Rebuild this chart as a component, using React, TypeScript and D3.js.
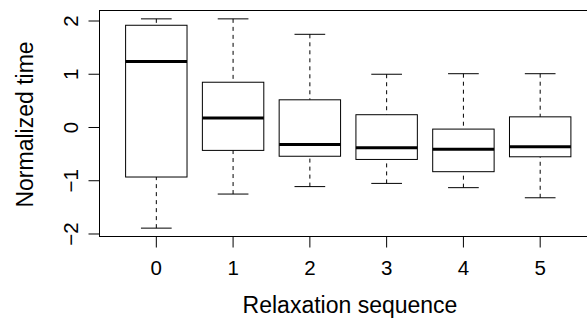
import React from "react";
import * as d3 from "d3";

// R-style boxplot stats per relaxation sequence
const groups = ["0", "1", "2", "3", "4", "5"];
const whiskerLow = [-1.89, -1.25, -1.11, -1.05, -1.13, -1.32];
const lowerHinge = [-0.93, -0.43, -0.54, -0.6, -0.83, -0.55];
const medians = [1.24, 0.18, -0.32, -0.38, -0.41, -0.36];
const upperHinge = [1.92, 0.85, 0.52, 0.24, -0.03, 0.2];
const whiskerHigh = [2.04, 2.04, 1.75, 1.0, 1.01, 1.01];
const yTicks = [-2, -1, 0, 1, 2];

const width = 587;
const height = 320;
const margin = { left: 99.5, top: 10.5, right: -10, bottom: 83.5 };
const font = "'Liberation Sans', Arial, Helvetica, sans-serif";
const tickSize = 20.5;
const titleSize = 23;

export default function App() {
  document.body.style.margin = "0";

  const innerLeft = margin.left;
  const innerRight = width - margin.right;
  const innerTop = margin.top;
  const innerBottom = height - margin.bottom;

  // R pads axis ranges by 4%
  const n = groups.length;
  const xPad = n * 0.04;
  const x = d3
    .scaleLinear()
    .domain([0.5 - xPad, n + 0.5 + xPad])
    .range([innerLeft, innerRight]);

  const yMin = d3.min(whiskerLow) as number;
  const yMax = d3.max(whiskerHigh) as number;
  const yPad = (yMax - yMin) * 0.04;
  const y = d3
    .scaleLinear()
    .domain([yMin - yPad, yMax + yPad])
    .range([innerBottom, innerTop]);

  const unit = x(2) - x(1);
  const boxW = unit * 0.8;
  const stapleW = boxW * 0.5;

  return (
    <svg width={width} height={height} style={{ display: "block", background: "#fff" }}>
      {/* frame */}
      <rect
        x={innerLeft}
        y={innerTop}
        width={innerRight - innerLeft}
        height={innerBottom - innerTop}
        fill="none"
        stroke="#000"
        strokeWidth={1}
      />

      {groups.map((g, i) => {
        const cx = x(i + 1);
        return (
          <g key={g}>
            <line x1={cx} x2={cx} y1={y(whiskerHigh[i])} y2={y(upperHinge[i])} stroke="#000" strokeDasharray="4,4" />
            <line x1={cx} x2={cx} y1={y(whiskerLow[i])} y2={y(lowerHinge[i])} stroke="#000" strokeDasharray="4,4" />
            <line x1={cx - stapleW / 2} x2={cx + stapleW / 2} y1={y(whiskerHigh[i])} y2={y(whiskerHigh[i])} stroke="#000" />
            <line x1={cx - stapleW / 2} x2={cx + stapleW / 2} y1={y(whiskerLow[i])} y2={y(whiskerLow[i])} stroke="#000" />
            <rect
              x={cx - boxW / 2}
              y={y(upperHinge[i])}
              width={boxW}
              height={y(lowerHinge[i]) - y(upperHinge[i])}
              fill="#fff"
              stroke="#000"
            />
            <line x1={cx - boxW / 2} x2={cx + boxW / 2} y1={y(medians[i])} y2={y(medians[i])} stroke="#000" strokeWidth={3} />
          </g>
        );
      })}

      {/* x axis */}
      {groups.map((g, i) => (
        <g key={"xt" + g}>
          <line x1={x(i + 1)} x2={x(i + 1)} y1={innerBottom} y2={innerBottom + 11} stroke="#000" />
          <text x={x(i + 1)} y={275} textAnchor="middle" fontFamily={font} fontSize={tickSize}>
            {g}
          </text>
        </g>
      ))}
      <text x={350} y={312.5} textAnchor="middle" fontFamily={font} fontSize={titleSize}>
        Relaxation sequence
      </text>

      {/* y axis */}
      {yTicks.map((t) => (
        <g key={"yt" + t}>
          <line x1={innerLeft - 11} x2={innerLeft} y1={y(t)} y2={y(t)} stroke="#000" />
          <text
            transform={`translate(78,${y(t)}) rotate(-90)`}
            textAnchor="middle"
            fontFamily={font}
            fontSize={tickSize}
          >
            {t < 0 ? "\u2212" + Math.abs(t) : t}
          </text>
        </g>
      ))}
      <text
        transform={`translate(33,${(innerTop + innerBottom) / 2 + 1}) rotate(-90)`}
        textAnchor="middle"
        fontFamily={font}
        fontSize={titleSize}
      >
        Normalized time
      </text>
    </svg>
  );
}
